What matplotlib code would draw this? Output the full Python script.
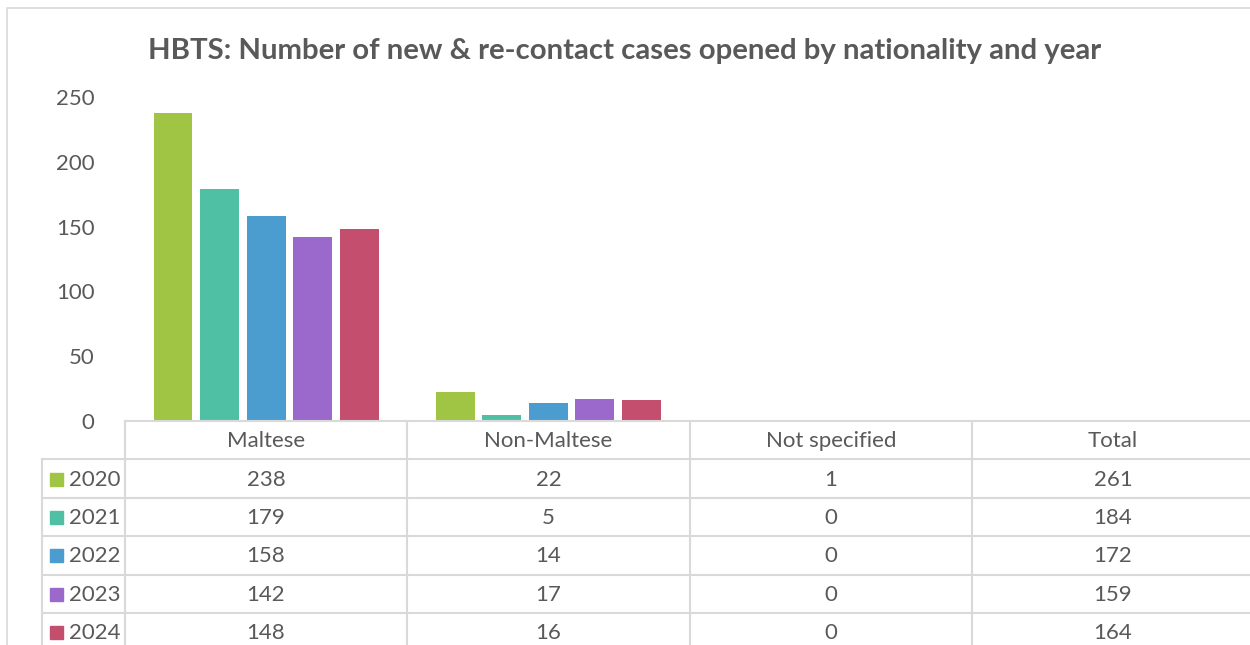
import numpy as np
import matplotlib.pyplot as plt
from matplotlib.patches import Rectangle

plt.rcParams['font.family'] = ['Lato', 'DejaVu Sans']

categories = ['Maltese', 'Non-Maltese', 'Not specified', 'Total']
years = ['2020', '2021', '2022', '2023', '2024']
v2020 = [238, 22, 1, 261]
v2021 = [179, 5, 0, 184]
v2022 = [158, 14, 0, 172]
v2023 = [142, 17, 0, 159]
v2024 = [148, 16, 0, 164]
values = [v2020, v2021, v2022, v2023, v2024]
colors = ['#A0C444', '#50C0A5', '#4A9DCE', '#9B68CC', '#C44E6E']
yticks = [0, 50, 100, 150, 200, 250]
title = 'HBTS: Number of new & re-contact cases opened by nationality and year'

W, H = 1250, 645
txt = '#595959'
grid = '#d9d9d9'
fs = 16

fig = plt.figure(figsize=(W / 100, H / 100), dpi=100)

# pixel layout of the plot area
x0, x1 = 125, 1254
ytop, ybot = 97, 421
ax = fig.add_axes([x0 / W, (H - ybot) / H, (x1 - x0) / W, (ybot - ytop) / H])
ax.set_xlim(-0.5, len(categories) - 0.5)
ax.set_ylim(0, 250)

# only the nationality columns get bars, Total is shown in the table
nbar = 3
step = 0.165
bw = 0.138
for i, (vals, c) in enumerate(zip(values, colors)):
    xs = np.arange(nbar) + (i - 2) * step
    ax.bar(xs, vals[:nbar], width=bw, color=c)

ax.set_yticks(yticks)
ax.set_xticks([])
for s in ax.spines.values():
    s.set_visible(False)
ax.tick_params(axis='y', length=0, pad=22, labelsize=fs, labelcolor=txt)

# overlay in pixel coordinates for title, frame and data table
ov = fig.add_axes([0, 0, 1, 1], zorder=-1)
ov.set_xlim(0, W)
ov.set_ylim(H, 0)
ov.axis('off')
ov.plot([7, 7, W], [H, 8, 8], color=grid, lw=1.2)

fig.text(0.5, 1 - 51 / H, title, ha='center', va='center',
         fontsize=21.2, fontweight='bold', color=txt)

tab = fig.add_axes([0, 0, 1, 1], zorder=3)
tab.set_xlim(0, W)
tab.set_ylim(H, 0)
tab.axis('off')
tab.patch.set_alpha(0)

col_x = [407, 690, 972, 1254]
row_h = 38.4
rows = [ybot + row_h * (k + 1) for k in range(len(years) + 1)]
lc = dict(color=grid, lw=1.5)
tab.plot([x0, W], [ybot, ybot], **lc)
for yy in rows:
    tab.plot([42, W], [yy, yy], **lc)
tab.plot([42, 42], [rows[0], H], **lc)
tab.plot([x0, x0], [ybot, H], **lc)
for xx in col_x:
    tab.plot([xx, xx], [ybot, H], **lc)

centers = [(a + b) / 2 for a, b in zip([x0] + col_x[:-1], col_x)]
for cx, name in zip(centers, categories):
    tab.text(cx, ybot + row_h / 2 + 1, name, ha='center', va='center',
             fontsize=fs, color=txt)
for r, (yr, vals, c) in enumerate(zip(years, values, colors)):
    cy = ybot + row_h * (r + 1.5) + 1
    tab.add_patch(Rectangle((50, cy - 7), 13, 13, color=c))
    tab.text(69, cy, yr, ha='left', va='center', fontsize=fs, color=txt)
    for cx, v in zip(centers, vals):
        tab.text(cx, cy, str(v), ha='center', va='center',
                 fontsize=fs, color=txt)

fig.savefig('out.png', dpi=100)
